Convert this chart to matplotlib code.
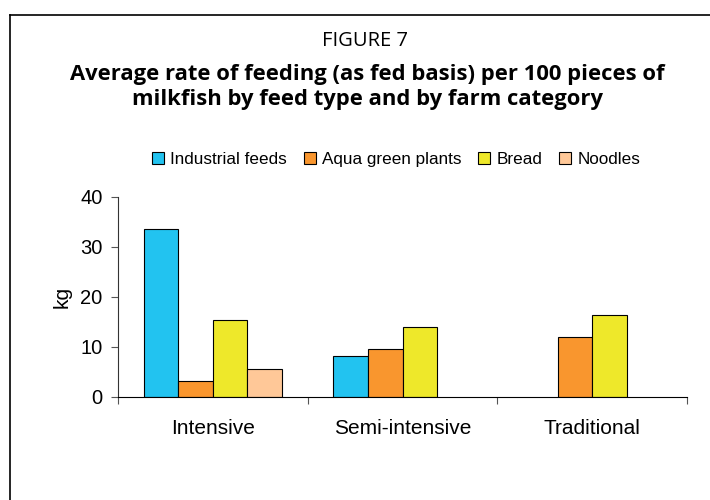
import numpy as np
import matplotlib
matplotlib.use('Agg')
import matplotlib.pyplot as plt
from matplotlib.lines import Line2D

# Farm categories and feed rates (kg per 100 pieces, as fed basis)
categories = ['Intensive', 'Semi-intensive', 'Traditional']
feed_types = ['Industrial feeds', 'Aqua green plants', 'Bread', 'Noodles']
industrial_feeds = [33.7, 8.3, np.nan]
aqua_green_plants = [3.3, 9.6, 12.1]
bread = [15.4, 14.0, 16.5]
noodles = [5.7, np.nan, np.nan]
y_ticks = [0, 10, 20, 30, 40]

series = [industrial_feeds, aqua_green_plants, bread, noodles]
colors = ['#22C3F0', '#F9962E', '#EEE82A', '#FFC898']

fig = plt.figure(figsize=(7.1, 5.0), dpi=100)

# Outer frame lines (top and left)
fig.add_artist(Line2D([9.5 / 710, 9.5 / 710], [0, 1 - 14.5 / 500], color='black', lw=1.2))
fig.add_artist(Line2D([9.5 / 710, 1], [1 - 14.5 / 500, 1 - 14.5 / 500], color='black', lw=1.2))

fig.text(365 / 710, 1 - 41 / 500, 'FIGURE 7', ha='center', va='center',
         fontsize=14.5, family='Open Sans')
fig.text(367 / 710, 1 - 87 / 500,
         'Average rate of feeding (as fed basis) per 100 pieces of\nmilkfish by feed type and by farm category',
         ha='center', va='center', fontsize=15.8, fontweight='bold',
         family='Open Sans', linespacing=1.3)

ax = fig.add_axes([118 / 710, 103 / 500, (687 - 118) / 710, 200 / 500])

width = 0.182
centers = np.arange(len(categories)) + 0.5
for i, (vals, col, name) in enumerate(zip(series, colors, feed_types)):
    offs = (i - 1.5) * width
    ax.bar(centers + offs, vals, width, color=col, edgecolor='black',
           linewidth=0.8, label=name)

ax.set_xlim(0, 3)
ax.set_ylim(0, 40)
ax.set_yticks(y_ticks)
ax.set_xticks([0, 1, 2, 3])
ax.set_xticklabels([])
ax.set_xticks(centers, minor=True)
ax.set_xticklabels(categories, minor=True)
ax.tick_params(axis='x', which='minor', length=0, pad=16, labelsize=15)
ax.tick_params(axis='x', which='major', length=5, direction='out', color='#555555')
ax.tick_params(axis='y', length=5, direction='out', color='#555555', labelsize=14.5, pad=6)

for lab in ax.get_xticklabels(minor=True) + ax.get_yticklabels():
    lab.set_family('Liberation Sans')

ax.spines['top'].set_visible(False)
ax.spines['right'].set_visible(False)
ax.spines['left'].set_color('#333333')
ax.spines['bottom'].set_color('black')
ax.set_ylabel('kg', fontsize=15, family='Liberation Sans', labelpad=6)

fig.legend(loc='center', bbox_to_anchor=(396 / 710, 1 - 159 / 500), ncol=4,
           frameon=False, handlelength=0.7, handleheight=0.7,
           handletextpad=0.35, columnspacing=1.0,
           prop={'family': 'Liberation Sans', 'size': 12.3})

fig.savefig('out.png', dpi=100, facecolor='white')
